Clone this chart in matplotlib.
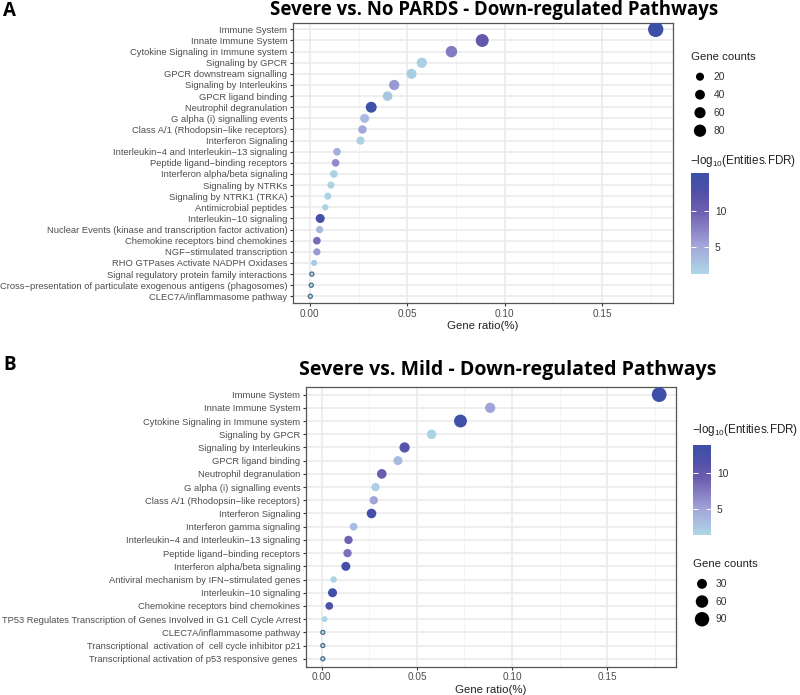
import numpy as np
import matplotlib
matplotlib.use("Agg")
import matplotlib.pyplot as plt
from matplotlib.colors import LinearSegmentedColormap, Normalize
from matplotlib.cm import ScalarMappable

# ---------------- data ----------------
a_pathways = [
    "Immune System", "Innate Immune System", "Cytokine Signaling in Immune system",
    "Signaling by GPCR", "GPCR downstream signalling", "Signaling by Interleukins",
    "GPCR ligand binding", "Neutrophil degranulation", "G alpha (i) signalling events",
    "Class A/1 (Rhodopsin\u2212like receptors)", "Interferon Signaling",
    "Interleukin\u22124 and Interleukin\u221213 signaling", "Peptide ligand\u2212binding receptors",
    "Interferon alpha/beta signaling", "Signaling by NTRKs", "Signaling by NTRK1 (TRKA)",
    "Antimicrobial peptides", "Interleukin\u221210 signaling",
    "Nuclear Events (kinase and transcription factor activation)",
    "Chemokine receptors bind chemokines", "NGF\u2212stimulated transcription",
    "RHO GTPases Activate NADPH Oxidases", "Signal regulatory protein family interactions",
    "Cross\u2212presentation of particulate exogenous antigens (phagosomes)",
    "CLEC7A/inflammasome pathway",
]
a_ratio = [0.1776, 0.0885, 0.0727, 0.0575, 0.0522, 0.0433, 0.0399, 0.0315, 0.0281,
           0.0270, 0.0260, 0.0139, 0.0132, 0.0123, 0.0108, 0.0092, 0.0079, 0.0053,
           0.0050, 0.0036, 0.0036, 0.0022, 0.0010, 0.0007, 0.0002]
a_counts = [170, 110, 80, 59, 55, 59, 48, 70, 40, 32, 30, 24, 24, 24, 19, 19, 13, 40,
            19, 24, 19, 11, 1, 1, 1]
a_fdr = [15.2, 11.0, 8.0, 2.0, 2.2, 6.0, 2.8, 14.5, 3.5, 5.0, 1.8, 4.5, 7.0, 1.8, 1.8,
         1.7, 1.6, 14.0, 4.0, 9.0, 6.0, 2.5, 1.4, 1.4, 1.3]
a_size_breaks = [20, 40, 60, 80]
a_fdr_ticks = [5, 10]

b_pathways = [
    "Immune System", "Innate Immune System", "Cytokine Signaling in Immune system",
    "Signaling by GPCR", "Signaling by Interleukins", "GPCR ligand binding",
    "Neutrophil degranulation", "G alpha (i) signalling events",
    "Class A/1 (Rhodopsin\u2212like receptors)", "Interferon Signaling",
    "Interferon gamma signaling", "Interleukin\u22124 and Interleukin\u221213 signaling",
    "Peptide ligand\u2212binding receptors", "Interferon alpha/beta signaling",
    "Antiviral mechanism by IFN\u2212stimulated genes", "Interleukin\u221210 signaling",
    "Chemokine receptors bind chemokines",
    "TP53 Regulates Transcription of Genes Involved in G1 Cell Cycle Arrest",
    "CLEC7A/inflammasome pathway",
    "Transcriptional  activation of  cell cycle inhibitor p21",
    "Transcriptional activation of p53 responsive genes ",
]
b_ratio = [0.1774, 0.0885, 0.0729, 0.0577, 0.0435, 0.0400, 0.0315, 0.0282, 0.0273,
           0.0261, 0.0167, 0.0140, 0.0135, 0.0126, 0.0062, 0.0056, 0.0039, 0.0014,
           0.0005, 0.0005, 0.0005]
b_counts = [110, 42, 77, 35, 42, 29, 35, 23, 23, 35, 18, 23, 23, 29, 10, 29, 18, 7, 1, 1, 1]
b_fdr = [13.9, 5.0, 13.5, 1.8, 11.0, 3.5, 9.5, 2.0, 5.0, 13.0, 3.5, 9.0, 8.0, 13.0, 1.8,
         13.5, 12.0, 1.6, 1.5, 1.5, 1.4]
b_size_breaks = [30, 60, 90]
b_fdr_ticks = [5, 10]

# ---------------- style ----------------
W, H, DPI = 800, 695, 100
cmap = LinearSegmentedColormap.from_list(
    "fdr", [(0.0, "#ADD8E6"), (0.28, "#A3A6DA"), (0.62, "#6E5EB0"),
            (0.82, "#5050A8"), (1.0, "#3C50A8")])
TXT = "#4D4D4D"
SANS = ["Liberation Sans", "DejaVu Sans"]
BOLD = ["Open Sans", "DejaVu Sans"]
plt.rcParams["font.family"] = SANS
plt.rcParams["mathtext.fontset"] = "custom"
plt.rcParams["mathtext.rm"] = "Liberation Sans"

fig = plt.figure(figsize=(W / DPI, H / DPI), dpi=DPI)
fig.patch.set_facecolor("white")


def fx(px):
    return px / W


def fy(py):
    return 1 - py / H


def diam(v, vmin, vmax, c):
    t = (np.asarray(v, float) - vmin) / (vmax - vmin)
    t = np.clip(t, 0, None)
    size = 1 + 5 * np.sqrt(t)
    return c * (2.845 * size + 0.945)  # pixels


def s_from_d(d):
    return (np.asarray(d) * 72 / DPI) ** 2


def panel(box, pathways, ratio, counts, fdr, c, title, title_xy, title_fs, letter,
          letter_xy, size_breaks, size_box, fdr_ticks, cbar_box, cbar_title_xy,
          size_title_xy):
    l, t, r, b = box
    ax = fig.add_axes([fx(l), fy(b), fx(r - l), (b - t) / H])
    n = len(pathways)
    y = np.arange(n)[::-1]
    counts = np.asarray(counts)
    vmin, vmax = counts.min(), counts.max()
    norm = Normalize(min(fdr), max(fdr))
    d = diam(counts, vmin, vmax, c)
    small = counts <= 2
    ax.scatter(np.asarray(ratio)[~small], y[~small], s=s_from_d(d[~small]),
               c=np.asarray(fdr)[~small], cmap=cmap, norm=norm, linewidths=0, zorder=3)
    ax.scatter(np.asarray(ratio)[small], y[small], s=s_from_d(d[small] + 1.0),
               c=np.asarray(fdr)[small], cmap=cmap, norm=norm,
               edgecolors="#46627E", linewidths=0.8, zorder=3)
    rng = max(ratio) - min(ratio)
    ax.set_xlim(min(ratio) - 0.05 * rng, max(ratio) + 0.05 * rng)
    ax.set_ylim(-0.6, n - 0.4)
    ax.set_yticks(y)
    ax.set_yticklabels(pathways, fontsize=6.75, color=TXT)
    ax.set_xticks([0.0, 0.05, 0.10, 0.15])
    ax.set_xticklabels(["0.00", "0.05", "0.10", "0.15"], fontsize=7.2, color=TXT)
    ax.set_xticks([0.025, 0.075, 0.125, 0.175], minor=True)
    ax.tick_params(axis="both", which="major", length=2.5, width=0.8, color="#333333", pad=1.5)
    ax.tick_params(axis="x", which="minor", length=0)
    ax.grid(True, which="major", color="#EBEBEB", linewidth=1.2, zorder=0)
    ax.grid(True, which="minor", axis="x", color="#F2F2F2", linewidth=0.6, zorder=0)
    ax.set_axisbelow(True)
    for sp in ax.spines.values():
        sp.set_color("#555555")
        sp.set_linewidth(0.9)
    ax.set_xlabel("Gene ratio(%)", fontsize=8.2, color="#222222", labelpad=2)

    fig.text(fx(title_xy[0]), fy(title_xy[1]), title, ha="center", va="center",
             fontsize=title_fs, fontweight="bold", family=BOLD)
    fig.text(fx(letter_xy[0]), fy(letter_xy[1]), letter, ha="left", va="center",
             fontsize=13.5, fontweight="bold", family=BOLD)

    # size legend
    sl, st, step = size_box
    k = len(size_breaks)
    lax = fig.add_axes([fx(sl), fy(st + step * k), fx(60), step * k / H])
    lax.set_xlim(0, 60)
    lax.set_ylim(-k + 0.5, 0.5)
    lax.axis("off")
    ly = -np.arange(k)
    lax.scatter(np.full(k, 10.0), ly, s=s_from_d(diam(size_breaks, vmin, vmax, c) + 0.8),
                color="black", linewidths=0)
    for yy, lab in zip(ly, size_breaks):
        lax.text(24, yy, str(lab), fontsize=7.4, color="#333333", va="center", ha="left")
    fig.text(fx(size_title_xy[0]), fy(size_title_xy[1]), "Gene counts",
             fontsize=8.2, color="#222222", ha="left", va="center")

    # colorbar
    cl, ct, cr, cb = cbar_box
    cax = fig.add_axes([fx(cl), fy(cb), fx(cr - cl), (cb - ct) / H])
    cbar = fig.colorbar(ScalarMappable(norm=norm, cmap=cmap), cax=cax)
    cbar.outline.set_visible(False)
    cbar.set_ticks(fdr_ticks)
    cbar.set_ticklabels([str(v) for v in fdr_ticks])
    cax.tick_params(axis="y", direction="in", length=3.5, width=0.7, color="white",
                    left=True, right=True, labelsize=7.4, labelcolor="#333333", pad=4)
    fig.text(fx(cbar_title_xy[0]), fy(cbar_title_xy[1]),
             r"$\mathregular{-log_{10}}$(Entities.FDR)",
             fontsize=8.4, color="#222222", ha="left", va="center")
    return ax


panel((293, 22.7, 673, 303), a_pathways, a_ratio, a_counts, a_fdr, 0.85,
      "Severe vs. No PARDS - Down-regulated Pathways", (494, 10), 13.4, "A", (3, 11),
      a_size_breaks, (690, 67.7, 18), a_fdr_ticks, (690.7, 173.3, 709.3, 274.3),
      (690, 161), (691, 57))
panel((306, 386.7, 676, 666.7), b_pathways, b_ratio, b_counts, b_fdr, 0.82,
      "Severe vs. Mild - Down-regulated Pathways", (507.5, 370), 14.0, "B", (3, 365),
      b_size_breaks, (692, 575, 17.7), b_fdr_ticks, (692.7, 445, 711.3, 535),
      (692, 430), (693, 564))

fig.savefig("out.png", dpi=DPI, facecolor="white")
